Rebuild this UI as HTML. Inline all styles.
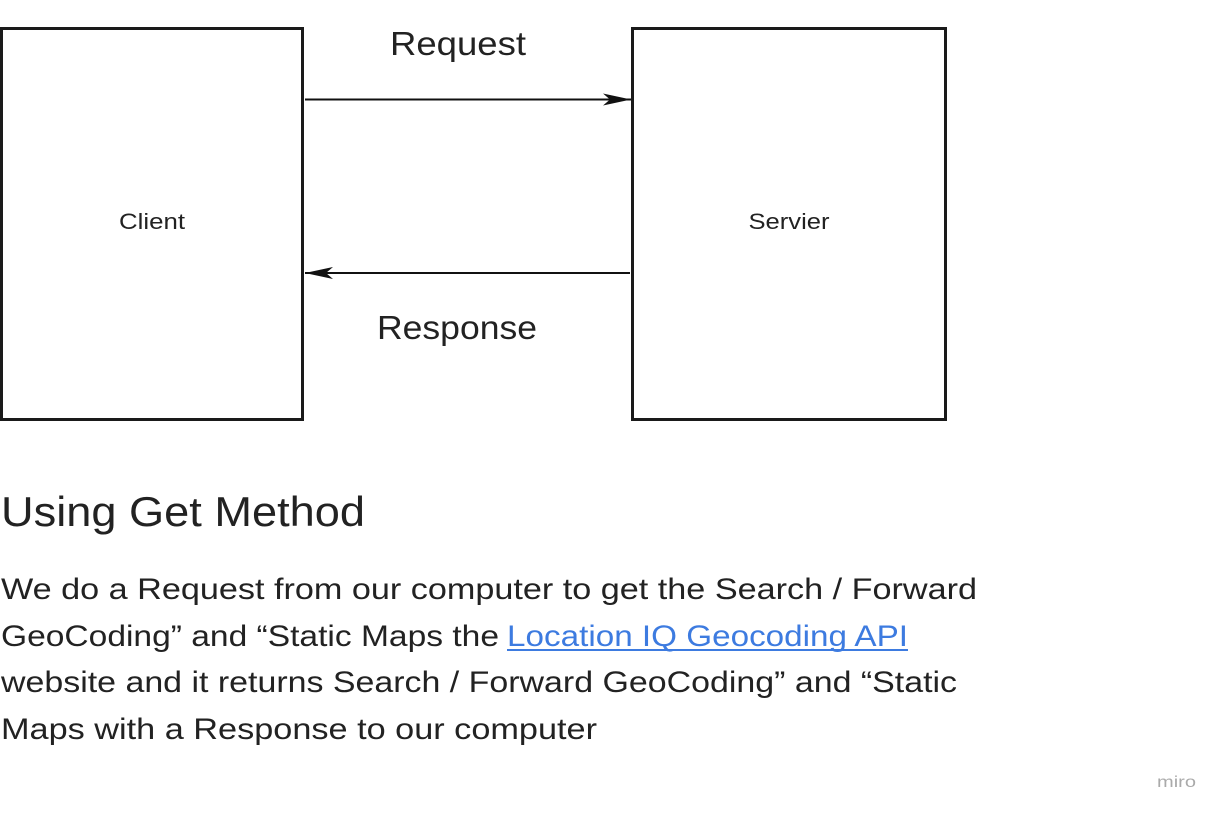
<!DOCTYPE html>
<html><head><meta charset="utf-8"><style>
html,body{margin:0;padding:0;background:#fff;width:1224px;height:816px;overflow:hidden}
svg text{font-family:"Liberation Sans",sans-serif;fill:#222}
</style></head><body>
<svg width="1224" height="816" viewBox="0 0 1224 816" xmlns="http://www.w3.org/2000/svg">
<defs>
<marker id="ah" markerWidth="30" markerHeight="12" refX="28" refY="6" orient="auto" markerUnits="userSpaceOnUse">
<path d="M0,0 L28,6 L0,12 L7,6 Z" fill="#111"/>
</marker>
</defs>
<rect x="1.5" y="28.5" width="301" height="391" fill="#fff" stroke="#1a1a1a" stroke-width="3"/>
<rect x="632.5" y="28.5" width="313" height="391" fill="#fff" stroke="#1a1a1a" stroke-width="3"/>
<line x1="305" y1="99.5" x2="631" y2="99.5" stroke="#111" stroke-width="2" marker-end="url(#ah)"/>
<line x1="630" y1="273" x2="305" y2="273" stroke="#111" stroke-width="2" marker-end="url(#ah)"/>
<text x="458" y="55" font-size="33" text-anchor="middle" textLength="136" lengthAdjust="spacingAndGlyphs">Request</text>
<text x="457" y="339" font-size="33" text-anchor="middle" textLength="160" lengthAdjust="spacingAndGlyphs">Response</text>
<text x="152" y="229" font-size="22" text-anchor="middle" textLength="66" lengthAdjust="spacingAndGlyphs" fill="#333">Client</text>
<text x="789" y="229" font-size="22" text-anchor="middle" textLength="81" lengthAdjust="spacingAndGlyphs" fill="#333">Servier</text>
<text x="1" y="526" font-size="42" textLength="364" lengthAdjust="spacingAndGlyphs">Using Get Method</text>
<text x="1" y="599" font-size="30" textLength="976" lengthAdjust="spacingAndGlyphs">We do a Request from our computer to get the Search / Forward</text>
<text x="1" y="646" font-size="30" textLength="498" lengthAdjust="spacingAndGlyphs">GeoCoding” and “Static Maps the</text>
<text x="507" y="646" font-size="30" textLength="401" lengthAdjust="spacingAndGlyphs" style="fill:#3d7be0">Location IQ Geocoding API</text>
<line x1="507" y1="650" x2="908" y2="650" stroke="#3d7be0" stroke-width="2"/>
<text x="1" y="692" font-size="30" textLength="956" lengthAdjust="spacingAndGlyphs">website and it returns Search / Forward GeoCoding” and “Static</text>
<text x="1" y="739" font-size="30" textLength="596" lengthAdjust="spacingAndGlyphs">Maps with a Response to our computer</text>
<text x="1157" y="787" font-size="16" textLength="39" lengthAdjust="spacingAndGlyphs" style="fill:#aaa">miro</text>
</svg>
</body></html>
